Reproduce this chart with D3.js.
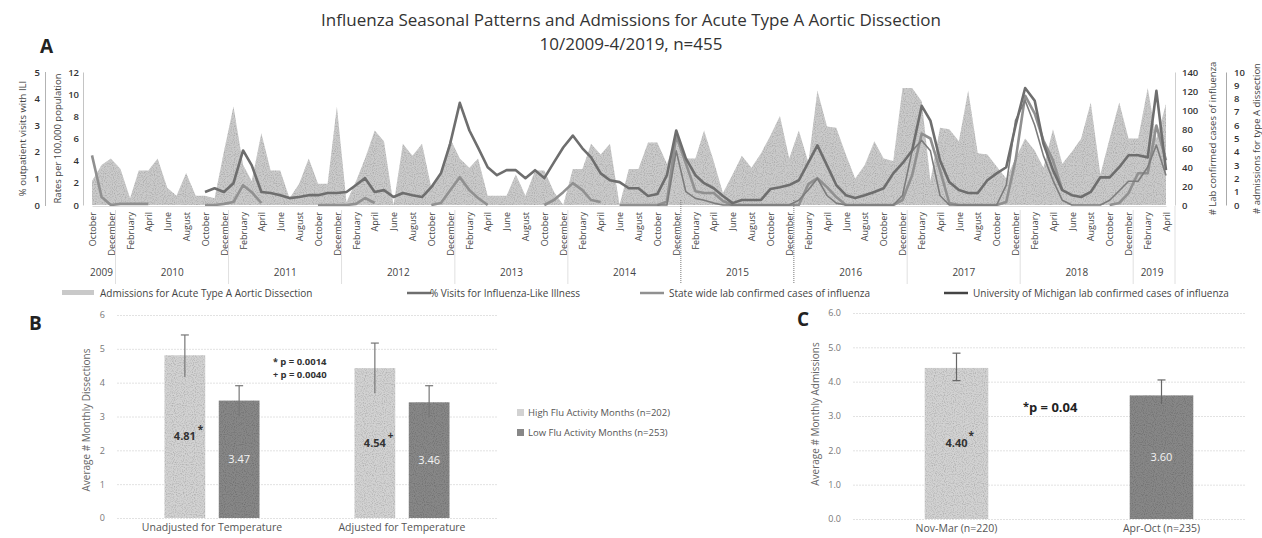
<!DOCTYPE html>
<html>
<head>
<meta charset="utf-8">
<script src="https://cdn.jsdelivr.net/npm/d3@7"></script>
<style>
body { margin: 0; background: #fff; }
text { font-family: "Open Sans", sans-serif; }
</style>
</head>
<body>
<div id="chart-area"></div>
<script>
/*
*    influenza / aortic dissection figure
*/
// ---- panel A data (monthly, 10/2009 - 4/2019) ----
var admissions = [1.8,3.0,3.5,2.7,0.5,2.6,2.6,3.5,1.3,0.7,
	2.4,0.7,0.7,0.5,4.0,7.4,3.0,1.8,5.4,2.6,
	2.6,0.5,1.6,3.5,1.6,1.6,7.4,0.2,1.8,3.5,
	5.6,4.8,0.0,4.6,3.7,4.6,1.3,2.3,5.0,3.5,
	2.8,3.5,0.7,0.7,0.7,2.3,0.7,2.6,2.6,1.0,
	0.0,2.7,2.7,4.6,3.8,4.6,0.0,2.7,2.7,4.7,
	4.7,3.1,5.0,3.5,3.5,5.6,3.3,0.9,2.3,3.7,
	2.8,3.9,5.2,6.7,3.5,5.6,3.2,8.6,5.9,5.8,
	3.8,2.0,3.0,4.8,3.5,3.3,8.8,8.8,7.8,1.8,
	5.8,5.7,4.8,8.6,3.9,3.8,2.9,2.0,3.5,5.0,
	4.1,2.8,5.7,3.1,4.0,5.0,7.7,2.3,5.0,7.7,
	5.0,5.0,8.8,5.0,7.6];

var iliVisits = [null,null,null,null,null,null,null,null,null,null,
	null,null,0.49,0.63,0.49,0.82,2.05,1.49,0.49,0.45,
	0.37,0.26,0.30,0.37,0.37,0.45,0.45,0.49,0.75,1.01,
	0.49,0.56,0.30,0.45,0.37,0.30,0.67,1.19,2.31,3.84,
	2.80,2.16,1.42,1.12,1.31,1.31,1.01,1.31,1.01,1.60,
	2.16,2.61,2.13,1.79,1.19,0.93,0.86,0.63,0.63,0.34,
	0.41,1.12,2.80,1.75,1.12,0.82,0.63,0.34,0.07,0.19,
	0.19,0.19,0.60,0.67,0.75,0.93,1.60,2.24,1.49,0.75,
	0.37,0.26,0.37,0.49,0.63,1.19,1.57,2.05,3.73,3.17,
	1.68,0.86,0.56,0.45,0.45,0.93,1.19,1.42,2.98,4.40,
	3.92,2.31,1.31,0.56,0.37,0.30,0.49,1.04,1.04,1.42,
	1.87,1.87,1.79,4.29,1.31];

var stateLab = [4.48,0.72,0.0,0.1,0.1,0.1,0.1,null,null,null,
	null,null,0,0,0.1,0.27,1.79,1.16,0.18,null,
	null,null,null,null,0,0,0,0,0.1,0.63,
	0.18,null,null,null,null,null,0,0.18,1.34,2.51,
	1.34,0.63,0,null,null,null,null,null,0,0.45,
	1.16,1.97,1.34,0.45,0.27,null,0,0,0,0,
	0,0.3,6.27,3.76,1.25,1.08,1.08,0.36,0,0,
	0,0,0,0,0,0,1.88,2.42,1.61,0.72,
	0,0,0,0,0,0,0.45,2.69,6.45,6.0,
	3.14,0.18,0,0,0,0,0,0.27,4.03,9.86,
	8.24,5.82,4.03,1.34,null,null,null,null,0,0.18,
	1.08,2.87,2.87,7.17,4.03];

var umichLab = [null,null,null,null,null,null,null,null,null,null,
	null,null,null,null,null,null,null,null,null,null,
	null,null,null,null,null,null,null,null,null,null,
	null,null,null,null,null,null,null,null,null,null,
	null,null,null,null,null,null,null,null,null,null,
	null,null,null,null,null,null,null,null,null,null,
	0,0,57,14,7,5,2,0,0,0,
	0,0,0,0,0,5,16,28,10,2,
	0,0,0,0,0,0,10,57,68,57,
	10,0,0,0,0,0,0,21,89,110,
	84,52,26,5,0,0,0,0,5,15,
	25,25,40,63,31];

var years = [2009,2010,2011,2012,2013,2014,2015,2016,2017,2018,2019];
var iliTicks = [0,1,2,3,4,5];
var rateTicks = [0,2,4,6,8,10,12];
var labTicks = [0,20,40,60,80,100,120,140];
var admTicks = [0,1,2,3,4,5,6,7,8,9,10];

var legendA = ["Admissions for Acute Type A Aortic Dissection", "% Visits for Influenza-Like Illness",
	"State wide lab  confirmed cases of influenza", "University of Michigan lab confirmed cases of influenza"];

// ---- panel B data ----
var groupsB = ["Unadjusted for Temperature", "Adjusted for Temperature"];
var seriesB = ["High Flu Activity Months (n=202)", "Low Flu Activity Months (n=253)"];
var highB = [4.81, 4.43];
var lowB = [3.47, 3.42];
var highLabelB = ["4.81", "4.54"];
var lowLabelB = ["3.47", "3.46"];
var highErrB = [[4.17, 5.41], [3.69, 5.17]];
var lowErrB = [[3.00, 3.91], [2.98, 3.91]];
var markB = ["*", "+"];
var pValsB = ["p = 0.0014", "p = 0.0040"];

// ---- panel C data ----
var groupsC = ["Nov-Mar (n=220)", "Apr-Oct (n=235)"];
var valuesC = [4.40, 3.60];
var errC = [[4.03, 4.83], [3.35, 4.05]];
var pValC = "p = 0.04";

var highColor = "#d2d2d2";
var lowColor = "#878787";

var W = 1262, H = 538;
var svg = d3.select("#chart-area").append("svg")
	.attr("width", W)
	.attr("height", H);

// grain so the fills look like the scan
var defs = svg.append("defs");
var grain = defs.append("filter").attr("id", "grain").attr("x", 0).attr("y", 0).attr("width", 1).attr("height", 1);
grain.append("feTurbulence").attr("type", "fractalNoise").attr("baseFrequency", 0.9).attr("numOctaves", 1).attr("seed", 3).attr("result", "noise");
grain.append("feColorMatrix").attr("in", "noise").attr("type", "matrix")
	.attr("values", "0 0 0 0 0  0 0 0 0 0  0 0 0 0 0  0 0 0 -0.9 0.5").attr("result", "dots");
grain.append("feComposite").attr("in", "dots").attr("in2", "SourceGraphic").attr("operator", "in").attr("result", "dots2");
grain.append("feMerge").selectAll("feMergeNode").data(["SourceGraphic", "dots2"]).enter()
	.append("feMergeNode").attr("in", (d) => d);

// ---- titles ----
svg.append("text").attr("x", 631).attr("y", 26).attr("text-anchor", "middle")
	.attr("font-size", "17px").style("fill", "#333")
	.text("Influenza Seasonal Patterns and Admissions for Acute Type A Aortic Dissection");
svg.append("text").attr("x", 631).attr("y", 50).attr("text-anchor", "middle")
	.attr("font-size", "17px").style("fill", "#333")
	.text("10/2009-4/2019, n=455");

[["A", 40, 53], ["B", 29, 330], ["C", 797, 326]].forEach((p) => {
	svg.append("text").attr("x", p[1]).attr("y", p[2])
		.attr("font-size", "19px").attr("font-weight", "bold").style("fill", "#222").text(p[0]);
});

// ================= PANEL A =================
var start = new Date(2009, 9, 1), end = new Date(2019, 3, 1);
var months = d3.timeMonth.range(start, new Date(2019, 4, 1));
var rows = months.map((m, i) => ({date: m, adm: admissions[i], ili: iliVisits[i], state: stateLab[i], um: umichLab[i]}));

var yTop = 72, yBot = 205;
var x = d3.scaleTime().domain([start, end]).range([92, 1166]);
var yIli = d3.scaleLinear().domain([0, 5]).range([yBot, yTop]);
var yRate = d3.scaleLinear().domain([0, 12]).range([yBot, yTop]);
var yLab = d3.scaleLinear().domain([0, 140]).range([yBot, yTop]);
var yAdm = d3.scaleLinear().domain([0, 10]).range([yBot, yTop]);

var gA = svg.append("g");

gA.append("path").datum(rows)
	.attr("fill", "#cacaca")
	.attr("filter", "url(#grain)")
	.attr("d", d3.area().x((d) => x(d.date)).y0(yAdm(0)).y1((d) => yAdm(d.adm)));

function drawLine(key, scale, color, width) {
	gA.append("path").datum(rows)
		.attr("fill", "none")
		.attr("stroke", color)
		.attr("stroke-width", width)
		.attr("stroke-linejoin", "round")
		.attr("d", d3.line().defined((d) => d[key] != null).x((d) => x(d.date)).y((d) => scale(d[key])));
}
drawLine("state", yRate, "#909090", 2.6);
drawLine("um", yLab, "#7c7c7c", 1.6);
drawLine("ili", yIli, "#6e6e6e", 2.6);

// left and right axes
function styleAxis(g, lineColor, dash) {
	g.selectAll("text").attr("font-size", "9.5px").attr("font-weight", "600").style("fill", "#333");
	g.select(".domain").attr("stroke", lineColor).attr("stroke-dasharray", dash);
}
var axIli = gA.append("g").attr("transform", "translate(45,0)")
	.call(d3.axisLeft(yIli).tickValues(iliTicks).tickFormat(d3.format("d")).tickSize(0).tickPadding(5));
styleAxis(axIli, "#666", "1,1");
var axRate = gA.append("g").attr("transform", "translate(83,0)")
	.call(d3.axisLeft(yRate).tickValues(rateTicks).tickSize(0).tickPadding(4));
styleAxis(axRate, "#c4c4c4", null);
var axLab = gA.append("g").attr("transform", "translate(1175,0)")
	.call(d3.axisRight(yLab).tickValues(labTicks).tickSize(0).tickPadding(7));
styleAxis(axLab, "#cfcfcf", null);
var axAdm = gA.append("g").attr("transform", "translate(1226,0)")
	.call(d3.axisRight(yAdm).tickValues(admTicks).tickSize(0).tickPadding(8));
styleAxis(axAdm, "#aaa", null);

[["% outpatient visits with ILI", 23], ["Rates per 100,000 population", 58],
	["# Lab confirmed cases of influenza", 1213], ["# admissions for type A dissection", 1257]].forEach((t) => {
	gA.append("text")
		.attr("transform", "translate(" + t[1] + "," + ((yTop + yBot) / 2) + ") rotate(-90)")
		.attr("text-anchor", "middle").attr("dy", "0.35em")
		.attr("font-size", "9.5px").style("fill", "#444")
		.text(t[0]);
});

// month axis, every second month from October 2009
var tickMonths = months.filter((d, i) => i % 2 === 0);
var xAxisCall = d3.axisBottom(x)
	.tickValues(tickMonths)
	.tickFormat(d3.timeFormat("%B"))
	.tickSize(0);
var axX = gA.append("g").attr("transform", "translate(0," + (yBot + 1) + ")").call(xAxisCall);
axX.select(".domain").attr("stroke", "#ddd");
axX.selectAll("text")
	.attr("transform", "rotate(-90)")
	.attr("x", -6).attr("y", 0).attr("dy", "0.35em")
	.style("text-anchor", "end")
	.attr("font-size", "9px").style("fill", "#444");

// year separators and labels
years.forEach((yr) => {
	var inYear = months.filter((m) => m.getFullYear() === yr);
	var cx = (x(inYear[0]) + x(inYear[inYear.length - 1])) / 2;
	gA.append("text").attr("x", cx).attr("y", 276).attr("text-anchor", "middle")
		.attr("font-size", "10px").style("fill", "#444").text(yr);
	if (yr > 2009) {
		var sx = x(new Date(yr - 1, 11, 16));
		var dotted = (yr === 2015 || yr === 2016);
		gA.append("line").attr("x1", sx).attr("x2", sx).attr("y1", dotted ? 200 : 210).attr("y2", 284)
			.attr("stroke", dotted ? "#777" : "#e0e0e0").attr("stroke-width", 1)
			.attr("stroke-dasharray", dotted ? "1,1" : null);
	}
});
gA.append("line").attr("x1", 1175).attr("x2", 1175).attr("y1", 206).attr("y2", 284).attr("stroke", "#e0e0e0");

// legend A
var legX = [62, 407, 640, 944];
legendA.forEach((name, i) => {
	var lg = gA.append("g").attr("transform", "translate(" + legX[i] + ",293)");
	if (i === 0) {
		lg.append("rect").attr("x", 0).attr("y", -3).attr("width", 32).attr("height", 5).attr("fill", "#c9c9c9");
	} else {
		lg.append("line").attr("x1", 0).attr("x2", 24).attr("y1", 0).attr("y2", 0)
			.attr("stroke", ["", "#6e6e6e", "#909090", "#444"][i]).attr("stroke-width", 2.5);
	}
	lg.append("text").attr("x", i === 0 ? 38 : (i === 1 ? 23 : 29)).attr("y", 0).attr("dy", "0.35em")
		.attr("font-size", "10px").style("fill", "#444").text(name);
});

// ================= PANEL B =================
var gB = svg.append("g");
var yB = d3.scaleLinear().domain([0, 6]).range([518, 315]);
var x0B = d3.scaleBand().domain(groupsB).range([117, 497]);
var x1B = d3.scaleBand().domain(seriesB).range([0, x0B.bandwidth()]).paddingInner(0.25).paddingOuter(0.875);

gB.append("g").attr("transform", "translate(117,0)")
	.call(d3.axisLeft(yB).ticks(6).tickSize(-380).tickPadding(12))
	.call((g) => {
		g.select(".domain").remove();
		g.selectAll(".tick line").attr("stroke", "#e2e2e2").attr("stroke-dasharray", "2,1");
		g.selectAll("text").attr("font-size", "9px").style("fill", "#777");
	});

gB.append("text")
	.attr("transform", "translate(86,420) rotate(-90)")
	.attr("text-anchor", "middle").attr("dy", "0.35em")
	.attr("font-size", "10px").style("fill", "#666")
	.text("Average # Monthly Dissections");

groupsB.forEach((grp, i) => {
	var gx = x0B(grp);
	var vals = [highB[i], lowB[i]];
	var errs = [highErrB[i], lowErrB[i]];
	seriesB.forEach((s, j) => {
		var bx = gx + x1B(s);
		var bw = x1B.bandwidth();
		gB.append("rect").attr("x", bx).attr("y", yB(vals[j])).attr("width", bw)
			.attr("height", yB(0) - yB(vals[j])).attr("fill", j === 0 ? highColor : lowColor)
			.attr("filter", "url(#grain)");
		var cx = bx + bw / 2;
		gB.append("line").attr("x1", cx).attr("x2", cx).attr("y1", yB(errs[j][0])).attr("y2", yB(errs[j][1]))
			.attr("stroke", "#777").attr("stroke-width", 1.2);
		gB.append("line").attr("x1", cx - 4).attr("x2", cx + 4).attr("y1", yB(errs[j][1])).attr("y2", yB(errs[j][1]))
			.attr("stroke", "#777").attr("stroke-width", 1.2);
		gB.append("text").attr("x", cx).attr("y", yB(vals[j] / 2)).attr("dy", "0.35em")
			.attr("text-anchor", "middle").attr("font-size", "11px")
			.attr("font-weight", j === 0 ? "bold" : "normal")
			.style("fill", j === 0 ? "#333" : "#f4f4f4")
			.text(j === 0 ? highLabelB[i] : lowLabelB[i]);
		if (j === 0) {
			gB.append("text").attr("x", cx + 13).attr("y", yB(vals[j] / 2) - 4)
				.attr("font-size", "10px").attr("font-weight", "bold").style("fill", "#333").text(markB[i]);
		}
	});
	gB.append("text").attr("x", gx + x0B.bandwidth() / 2).attr("y", 531).attr("text-anchor", "middle")
		.attr("font-size", "10.5px").style("fill", "#555").text(grp);
});

pValsB.forEach((p, i) => {
	var t = gB.append("text").attr("x", 273).attr("y", 365 + i * 13)
		.attr("font-size", "9.5px").attr("font-weight", "bold").style("fill", "#333");
	t.append("tspan").attr("font-size", "9px").text(markB[i] + " ");
	t.append("tspan").text(p);
});

seriesB.forEach((s, j) => {
	gB.append("rect").attr("x", 517).attr("y", 409 + j * 20).attr("width", 7).attr("height", 7)
		.attr("fill", j === 0 ? highColor : lowColor);
	gB.append("text").attr("x", 528).attr("y", 413 + j * 20).attr("dy", "0.35em")
		.attr("font-size", "9.5px").style("fill", "#555").text(s);
});

// ================= PANEL C =================
var gC = svg.append("g");
var yC = d3.scaleLinear().domain([0, 6]).range([519, 313]);
var xC = d3.scaleBand().domain(groupsC).range([854, 1264]).paddingInner(0.69).paddingOuter(0.345);

gC.append("g").attr("transform", "translate(853,0)")
	.call(d3.axisLeft(yC).ticks(6).tickFormat(d3.format(".1f")).tickSize(-392).tickPadding(12))
	.call((g) => {
		g.select(".domain").remove();
		g.selectAll(".tick line").attr("stroke", "#e2e2e2").attr("stroke-dasharray", "2,1");
		g.selectAll("text").attr("font-size", "9px").style("fill", "#777");
	});

gC.append("text")
	.attr("transform", "translate(815,414) rotate(-90)")
	.attr("text-anchor", "middle").attr("dy", "0.35em")
	.attr("font-size", "10px").style("fill", "#666")
	.text("Average # Monthly Admissions");

groupsC.forEach((grp, i) => {
	var bx = xC(grp), bw = xC.bandwidth(), cx = bx + bw / 2;
	gC.append("rect").attr("x", bx).attr("y", yC(valuesC[i])).attr("width", bw)
		.attr("height", yC(0) - yC(valuesC[i])).attr("fill", i === 0 ? highColor : lowColor)
		.attr("filter", "url(#grain)");
	gC.append("line").attr("x1", cx).attr("x2", cx).attr("y1", yC(errC[i][0])).attr("y2", yC(errC[i][1]))
		.attr("stroke", "#666").attr("stroke-width", 1.2);
	[0, 1].forEach((k) => {
		if (i === 1 && k === 0) return;
		gC.append("line").attr("x1", cx - 4).attr("x2", cx + 4).attr("y1", yC(errC[i][k])).attr("y2", yC(errC[i][k]))
			.attr("stroke", "#666").attr("stroke-width", 1.2);
	});
	gC.append("text").attr("x", cx).attr("y", yC(valuesC[i] / 2)).attr("dy", "0.35em")
		.attr("text-anchor", "middle").attr("font-size", "11px")
		.attr("font-weight", i === 0 ? "bold" : "normal")
		.style("fill", i === 0 ? "#333" : "#f4f4f4")
		.text(d3.format(".2f")(valuesC[i]));
	if (i === 0) {
		gC.append("text").attr("x", cx + 12).attr("y", yC(valuesC[i] / 2) - 4)
			.attr("font-size", "10px").attr("font-weight", "bold").style("fill", "#333").text("*");
	}
	gC.append("text").attr("x", cx).attr("y", 532).attr("text-anchor", "middle")
		.attr("font-size", "10.5px").style("fill", "#555").text(grp);
});

var pc = gC.append("text").attr("x", 1023).attr("y", 412)
	.attr("font-size", "13px").attr("font-weight", "bold").style("fill", "#222");
pc.append("tspan").attr("font-size", "11px").attr("dy", "-2").text("*");
pc.append("tspan").attr("dy", "2").text(pValC);
</script>
</body>
</html>
